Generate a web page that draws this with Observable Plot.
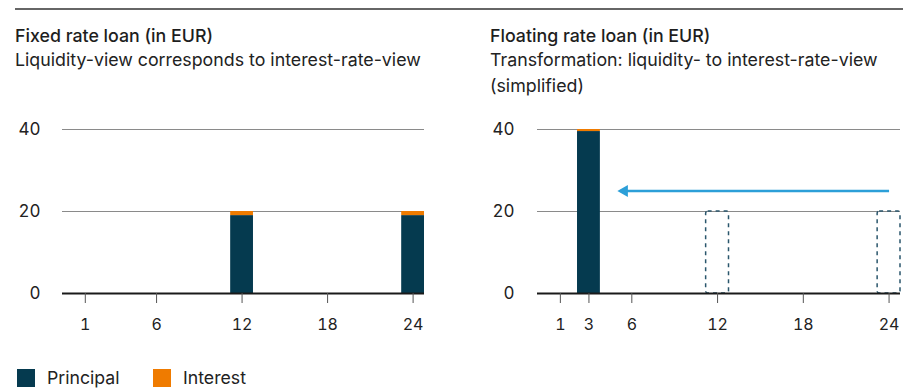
<!DOCTYPE html>
<html>
<head>
<meta charset="utf-8">
<script src="https://cdn.jsdelivr.net/npm/d3@7"></script>
<script src="https://cdn.jsdelivr.net/npm/@observablehq/plot@0.6"></script>
<style>
  html, body { margin: 0; padding: 0; background: #fff; }
  body { width: 903px; height: 390px; position: relative; overflow: hidden; font-family: Inter, "Noto Sans", sans-serif; color: #222; }
  .rule { position: absolute; left: 15px; right: 0; top: 8px; height: 2px; background: #666; }
  .title { position: absolute; font-size: 17.8px; font-weight: 500; line-height: 20px; color: #1e1e1e; white-space: nowrap; }
  .sub { position: absolute; font-size: 17.8px; font-weight: 400; line-height: 26px; color: #222; white-space: nowrap; }
  .chart { position: absolute; top: 110px; }
  .legend { position: absolute; top: 368px; left: 17px; font-size: 17.7px; color: #222; }
  .sw { position: absolute; width: 18px; height: 18px; top: 1px; }
  .lt { position: absolute; top: 0; line-height: 20px; white-space: nowrap; }
</style>
</head>
<body>
<div class="rule"></div>
<div class="title" style="left:15px;top:26px">Fixed rate loan (in EUR)</div>
<div class="sub" style="left:15px;top:47px">Liquidity-view corresponds to interest-rate-view</div>
<div class="title" style="left:490px;top:26px">Floating rate loan (in EUR)</div>
<div class="sub" style="left:490px;top:47px">Transformation: liquidity- to interest-rate-view<br>(simplified)</div>
<div id="left" class="chart" style="left:0px"></div>
<div id="right" class="chart" style="left:450px"></div>
<div class="legend" id="legend"></div>
<script>
// ---- data ----
const seriesNames = ["Principal", "Interest"];
const seriesColors = ["#053a4f", "#ef7b00"];

const fixedMonths = [12, 24];
const fixedPrincipal = [19, 19];
const fixedInterest = [1, 1];

const floatMonths = [3];
const floatPrincipal = [39.5];
const floatInterest = [0.5];

const ghostMonths = [12, 24];
const ghostValues = [20, 20];

const arrowFromMonth = 24;
const arrowToMonth = 5.2;
const arrowLevel = 25;

const xTicksFixed = [1, 6, 12, 18, 24];
const xTicksFloat = [1, 3, 6, 12, 18, 24];
const yTicks = [0, 20, 40];

// ---- helpers ----
const HALF = 0.8;
function stacked(months, principal, interest) {
  const rows = [];
  months.forEach((m, i) => {
    let base = 0;
    [[seriesNames[0], principal[i]], [seriesNames[1], interest[i]]].forEach(([s, v]) => {
      rows.push({month: m, series: s, y1: base, y2: base + v});
      base += v;
    });
  });
  return rows;
}

function makeChart(opts) {
  const marks = [
    Plot.ruleY(yTicks.filter(d => d > 0), {stroke: "#8a8a8a", strokeWidth: 1.2}),
    Plot.rect(opts.bars, {
      x1: d => d.month - HALF, x2: d => d.month + HALF,
      y1: "y1", y2: "y2", fill: "series"
    })
  ];
  if (opts.ghost) {
    marks.push(Plot.rect(opts.ghost, {
      x1: d => d.month - HALF, x2: d => d.month + HALF,
      y1: 0, y2: "value", fill: "none", stroke: "#2a566c", strokeWidth: 1.5,
      strokeDasharray: "4,4", rx: 2
    }));
  }
  if (opts.arrow) {
    marks.push(
      Plot.link(opts.arrow, {
        x1: "from", x2: "to", y1: "level", y2: "level",
        stroke: "#2c9fd8", strokeWidth: 2.5
      }),
      Plot.dot(opts.arrow, {
        x: "to", y: "level", symbol: "triangle", rotate: -90, r: 4.5, dx: 4,
        fill: "#2c9fd8", stroke: "none"
      })
    );
  }
  marks.push(
    Plot.ruleY([0], {stroke: "#1a1a1a", strokeWidth: 2}),
    Plot.axisX({ticks: opts.xTicks, tickSize: 10, tickPadding: 15, tickFormat: d => String(d), fontSize: 16, stroke: "#555", fill: "#222", label: null}),
    Plot.axisY({ticks: yTicks, tickSize: 0, tickPadding: opts.yPad, fontSize: 17, fill: "#222", label: null})
  );
  return Plot.plot({
    width: opts.width,
    height: 230,
    marginTop: 19,
    marginBottom: 47,
    marginLeft: opts.marginLeft,
    marginRight: opts.marginRight,
    style: {fontFamily: "Inter, 'Noto Sans', sans-serif", background: "transparent", overflow: "visible"},
    x: {domain: [-0.6, 24.8]},
    y: {domain: [0, 40]},
    color: {domain: seriesNames, range: seriesColors},
    marks
  });
}

document.getElementById("left").append(makeChart({
  width: 450, marginLeft: 62, marginRight: 26, yPad: 22,
  bars: stacked(fixedMonths, fixedPrincipal, fixedInterest),
  xTicks: xTicksFixed
}));

document.getElementById("right").append(makeChart({
  width: 453, marginLeft: 87, marginRight: 3, yPad: 23,
  bars: stacked(floatMonths, floatPrincipal, floatInterest),
  ghost: ghostMonths.map((m, i) => ({month: m, value: ghostValues[i]})),
  arrow: [{from: arrowFromMonth, to: arrowToMonth, level: arrowLevel}],
  xTicks: xTicksFloat
}));

// legend
const legend = document.getElementById("legend");
const legendX = [0, 136];
seriesNames.forEach((s, i) => {
  const sw = document.createElement("div");
  sw.className = "sw";
  sw.style.left = legendX[i] + "px";
  sw.style.background = seriesColors[i];
  legend.append(sw);
  const t = document.createElement("div");
  t.className = "lt";
  t.style.left = (legendX[i] + 30) + "px";
  t.textContent = s;
  legend.append(t);
});
</script>
</body>
</html>
